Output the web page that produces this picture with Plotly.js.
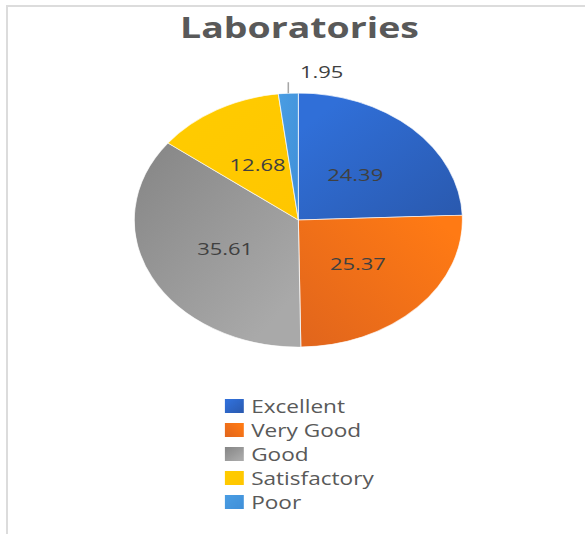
<!DOCTYPE html>
<html>
<head>
<meta charset="utf-8">
<script src="https://cdn.plot.ly/plotly-3.0.1.min.js"></script>
<style>
  html, body { margin: 0; padding: 0; background: #ffffff; overflow: hidden; }
  #frame { position: absolute; left: 6px; top: 5px; width: 600px; height: 600px;
           border-top: 2px solid #dcdcdc; border-left: 2px solid #dcdcdc; box-sizing: border-box; }
  #chart { position: absolute; left: 0; top: 0; width: 453px; height: 534px;
           transform: scaleX(1.2914); transform-origin: 0 0; }
</style>
</head>
<body>
<div id="frame"></div>
<div id="chart"></div>
<script>
const categories = ["Excellent", "Very Good", "Good", "Satisfactory", "Poor"];
const values = [24.39, 25.37, 35.61, 12.68, 1.95];
const sliceColors = ["#2E6AD2", "#FC7516", "#A0A0A0", "#FFCA00", "#4599E0"];
const textPositions = ["inside", "inside", "inside", "inside", "outside"];

// gradient styling: [x1, y1, x2, y2, startColor, endColor]
const sliceGradients = [
  [0.2, 0.1, 1, 0.9, "#306FD8", "#2A5AB0"],
  [1, 0.2, 0.1, 1, "#FF7A14", "#E2661C"],
  [0, 0, 0.8, 0.9, "#858585", "#A9A9A9"],
  [0, 0, 1, 1, "#FFCC00", "#FFC600"],
  [0, 0, 1, 1, "#4A9DE3", "#3F8FD8"]
];

const trace = {
  type: "pie",
  labels: categories,
  values: values,
  sort: false,
  direction: "clockwise",
  rotation: 0,
  marker: { colors: sliceColors, line: { width: 0.8, color: "rgba(255,255,255,0.7)" } },
  textinfo: "value",
  texttemplate: "%{value:.2f}",
  textposition: textPositions,
  insidetextorientation: "horizontal",
  textfont: { family: "Open Sans, sans-serif", size: 17, color: "#404040" },
  outsidetextfont: { family: "Open Sans, sans-serif", size: 17, color: "#404040" },
  hoverinfo: "none",
  domain: { x: [0.2296, 0.7904], y: [0.350, 0.826] },
  automargin: false
};

const layout = {
  width: 453,
  height: 534,
  margin: { l: 0, r: 0, t: 0, b: 0, autoexpand: false },
  paper_bgcolor: "rgba(0,0,0,0)",
  plot_bgcolor: "rgba(0,0,0,0)",
  title: {
    text: "<b>Laboratories</b>",
    font: { family: "Open Sans, sans-serif", size: 29, color: "#595959" },
    x: 0.512, xref: "paper", xanchor: "center",
    y: 0.948, yref: "paper", yanchor: "middle"
  },
  showlegend: true,
  legend: {
    x: 0.341, xanchor: "left", xref: "paper",
    y: 0.273, yanchor: "top", yref: "paper",
    font: { family: "Open Sans, sans-serif", size: 17.5, color: "#595959" },
    bgcolor: "rgba(0,0,0,0)",
    traceorder: "normal"
  }
};

const SVGNS = "http://www.w3.org/2000/svg";

function restyleChart(gd) {
  const svg = gd.querySelector("svg.main-svg");
  const defs = document.createElementNS(SVGNS, "defs");
  sliceGradients.forEach((g, i) => {
    const lg = document.createElementNS(SVGNS, "linearGradient");
    lg.setAttribute("id", "sliceGrad" + i);
    lg.setAttribute("x1", g[0]); lg.setAttribute("y1", g[1]);
    lg.setAttribute("x2", g[2]); lg.setAttribute("y2", g[3]);
    [[0, g[4]], [1, g[5]]].forEach(([off, col]) => {
      const st = document.createElementNS(SVGNS, "stop");
      st.setAttribute("offset", off);
      st.setAttribute("stop-color", col);
      lg.appendChild(st);
    });
    defs.appendChild(lg);
  });
  svg.insertBefore(defs, svg.firstChild);

  const cd0 = gd.calcdata[0][0];
  const cx = cd0.cx, cy = cd0.cy, r = cd0.r;
  const total = values.reduce((a, b) => a + b, 0);
  let cum = 0;
  const slices = gd.querySelectorAll(".pielayer g.slice");
  slices.forEach((sl, i) => {
    const surf = sl.querySelector("path.surface");
    if (surf) surf.style.fill = "url(#sliceGrad" + i + ")";
    const theta = 2 * Math.PI * (cum + values[i] / 2) / total;
    cum += values[i];
    const txt = sl.querySelector("text.slicetext");
    if (!txt) return;
    const bb = txt.getBBox();
    const bcx = bb.x + bb.width / 2, bcy = bb.y + bb.height / 2;
    if (textPositions[i] === "inside") {
      const tx = cx + 0.5 * r * Math.sin(theta);
      const ty = cy - 0.5 * r * Math.cos(theta);
      txt.setAttribute("transform", "translate(" + (tx - bcx) + "," + (ty - bcy) + ")");
    } else {
      const ex = cx + r * Math.sin(theta);
      const ey = cy - r * Math.cos(theta);
      const topY = ey - 11;
      const line = document.createElementNS(SVGNS, "path");
      line.setAttribute("d", "M" + ex + "," + ey + "V" + topY);
      line.setAttribute("stroke", "#A6A6A6");
      line.setAttribute("stroke-width", "1.2");
      line.setAttribute("fill", "none");
      sl.appendChild(line);
      const tx = ex + 9 + bb.width / 2;
      const ty = topY - 11;
      txt.setAttribute("transform", "translate(" + (tx - bcx) + "," + (ty - bcy) + ")");
    }
  });

  const items = gd.querySelectorAll(".legend g.traces");
  let y0 = null;
  items.forEach((it, i) => {
    const m = /translate\(([-\d.e]+)[ ,]+([-\d.e]+)\)/.exec(it.getAttribute("transform") || "");
    if (!m) return;
    if (y0 === null) y0 = parseFloat(m[2]);
    it.setAttribute("transform", "translate(" + m[1] + "," + (y0 + i * 24) + ")");
    const sym = it.querySelector("path.legendpie");
    if (sym) {
      sym.setAttribute("transform", "translate(27,0) scale(1.22,1.17)");
      sym.style.fill = "url(#sliceGrad" + i + ")";
      sym.style.strokeWidth = "0";
    }
  });
}

Plotly.newPlot("chart", [trace], layout, { staticPlot: true, displayModeBar: false })
  .then(gd => restyleChart(gd));
</script>
</body>
</html>
